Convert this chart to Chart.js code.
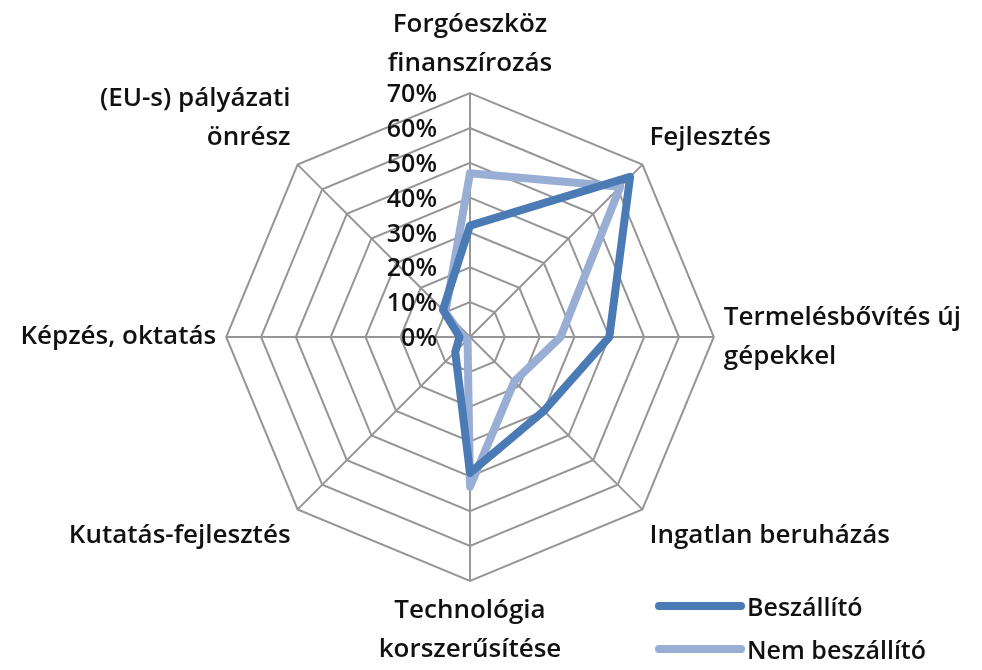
<!DOCTYPE html>
<html>
<head>
<meta charset="utf-8">
<script src="https://cdn.jsdelivr.net/npm/chart.js@4/dist/chart.umd.min.js"></script>
<style>
  body { margin: 0; background: #fff; }
  #wrap { position: relative; width: 982px; height: 670px; }
  #legend { position: absolute; left: 655px; top: 584px; font-family: "Open Sans", sans-serif; font-weight: 600; font-size: 25px; color: #111; }
  #legend div { height: 43px; display: flex; align-items: center; }
  #legend span.ln { display: inline-block; width: 90px; height: 8px; border-radius: 4px; margin-right: 2px; }
</style>
</head>
<body>
<div id="wrap">
  <canvas id="radarChart" width="982" height="670"></canvas>
  <div id="legend"></div>
</div>
<script>
// kategóriák (tengelyek)
const kategoriak = [
  ['Forgóeszköz', 'finanszírozás'],
  'Fejlesztés',
  ['Termelésbővítés új', 'gépekkel'],
  'Ingatlan beruházás',
  ['Technológia', 'korszerűsítése'],
  'Kutatás-fejlesztés',
  'Képzés, oktatás',
  ['(EU-s) pályázati', 'önrész']
];

// értékek (%)
const beszallito = [32, 65, 40, 30, 39, 6, 3, 11];
const nemBeszallito = [47, 61, 26, 18, 43, 1, 2, 10];

const tickMax = 70;
const tickStep = 10;

const sorozatNevek = ['Beszállító', 'Nem beszállító'];
const szinek = ['#4a7bb5', '#98aed4'];

const betu = '"Open Sans", sans-serif';

// ===============================
// TICK LABELS (bal oldalon, jobbra igazítva)
// ===============================
const tickPlugin = {
  id: 'tickLabels',
  afterDatasetsDraw(chart) {
    const scale = chart.scales.r;
    const ctx = chart.ctx;
    ctx.save();
    ctx.font = '600 25px ' + betu;
    ctx.fillStyle = '#111';
    ctx.textAlign = 'right';
    ctx.textBaseline = 'middle';
    scale.ticks.forEach(t => {
      const d = scale.getDistanceFromCenterForValue(t.value);
      ctx.fillText(t.value + '%', scale.xCenter - 33, scale.yCenter - d + 2);
    });
    ctx.restore();
  }
};

const chart = new Chart(document.getElementById('radarChart'), {
  type: 'radar',
  data: {
    labels: kategoriak,
    datasets: [
      { label: sorozatNevek[0], data: beszallito, borderColor: szinek[0] },
      { label: sorozatNevek[1], data: nemBeszallito, borderColor: szinek[1] }
    ]
  },
  options: {
    responsive: false,
    animation: false,
    layout: { padding: { top: 4, bottom: 0, left: 0, right: 0 } },
    elements: {
      line: { borderWidth: 8, fill: false, tension: 0, borderJoinStyle: 'round', borderCapStyle: 'round' },
      point: { radius: 0, hoverRadius: 0 }
    },
    plugins: { legend: { display: false }, tooltip: { enabled: false } },
    scales: {
      r: {
        min: 0,
        max: tickMax,
        ticks: { stepSize: tickStep, display: false },
        grid: { color: '#969696', lineWidth: 2 },
        angleLines: { color: '#969696', lineWidth: 2 },
        pointLabels: {
          color: '#111',
          padding: 10,
          font: { family: betu, size: 26, weight: '600', lineHeight: 1.5 }
        }
      }
    }
  },
  plugins: [tickPlugin]
});

// ===============================
// LEGEND
// ===============================
const legend = document.getElementById('legend');
chart.data.datasets.forEach(ds => {
  const row = document.createElement('div');
  row.innerHTML = '<span class="ln" style="background:' + ds.borderColor + '"></span>' + ds.label;
  legend.appendChild(row);
});
</script>
</body>
</html>
